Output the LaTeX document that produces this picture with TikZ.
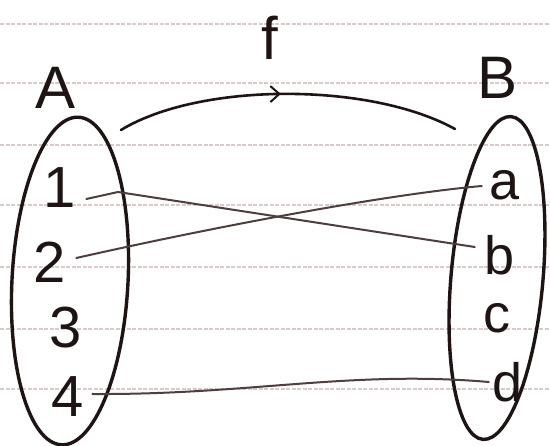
\documentclass[tikz,border=0pt]{standalone}
\usepackage{fontspec}
\setmainfont{Liberation Sans}
\usetikzlibrary{arrows.meta,decorations.markings}
\definecolor{ruleclr}{HTML}{D9CACA}
\definecolor{linkclr}{HTML}{4E3E3E}
\definecolor{inkclr}{HTML}{1E1414}
\begin{document}
\begin{tikzpicture}[x=1pt,y=-1pt,
  rule/.style={draw=ruleclr, line width=1.1pt, dash pattern=on 4pt off 1.5pt},
  setshape/.style={draw=inkclr, line width=3.4pt},
  elem/.style={inner sep=0pt, text=inkclr, font=\fontsize{58}{58}\selectfont},
  letter/.style={inner sep=0pt, text=inkclr, font=\fontsize{54}{54}\selectfont},
  setname/.style={inner sep=0pt, text=inkclr, font=\fontsize{60}{60}\selectfont},
  link/.style={draw=linkclr, line width=2pt, line cap=round},
  fmap/.style={draw=inkclr, line width=2.6pt, line cap=round,
    postaction={decorate}, decoration={markings,
      mark=at position 0.48 with {\arrow{Straight Barb[length=9pt,width=16pt,line width=2pt]}}}}
]
\useasboundingbox (0,0) rectangle (550,446);
\fill[white] (0,0) rectangle (550,446);
% ruled paper lines
\foreach \yy in {24,83,145,205,267,329,389}
  \draw[rule] (0,\yy) -- (550,\yy);
% sets
\draw[setshape, rotate around={-3:(70,281)}] (70,281) ellipse [x radius=58, y radius=164];
\draw[setshape, rotate around={-5:(497,278)}] (497,278) ellipse [x radius=46, y radius=162];
% labels
\node[setname] (lA) at (56,88) {A};
\node[setname] (lB) at (498,78) {B};
\node[setname] (lf) at (270,38) {f};
% elements of A
\node[elem] (n1) at (60,188) {1};
\node[elem] (n2) at (50,262) {2};
\node[elem] (n3) at (66,328) {3};
\node[elem] (n4) at (68,397) {4};
% elements of B
\node[letter] (na) at (505,185) {a};
\node[letter] (nb) at (500,255) {b};
\node[letter] (nc) at (497,318) {c};
\node[letter] (nd) at (508,382) {d};
% f arrow
\coordinate (fs) at (121,130);
\coordinate (fe) at (455,129);
\draw[fmap] (fs) .. controls (200,82) and (370,82) .. (fe);
% mapping lines
\draw[link] ([xshift=10pt,yshift=-11pt]n1.east) -- (118,192) -- ([xshift=-10pt,yshift=8pt]nb.west);
\draw[link] ([xshift=10pt,yshift=4pt]n2.east) .. controls (200,230) and (380,195) .. ([xshift=-8pt,yshift=-1pt]na.west);
\draw[link] ([xshift=8pt,yshift=3pt]n4.east) .. controls (250,395) and (350,370) .. ([xshift=-4pt,yshift=0pt]nd.west);
\end{tikzpicture}
\end{document}
